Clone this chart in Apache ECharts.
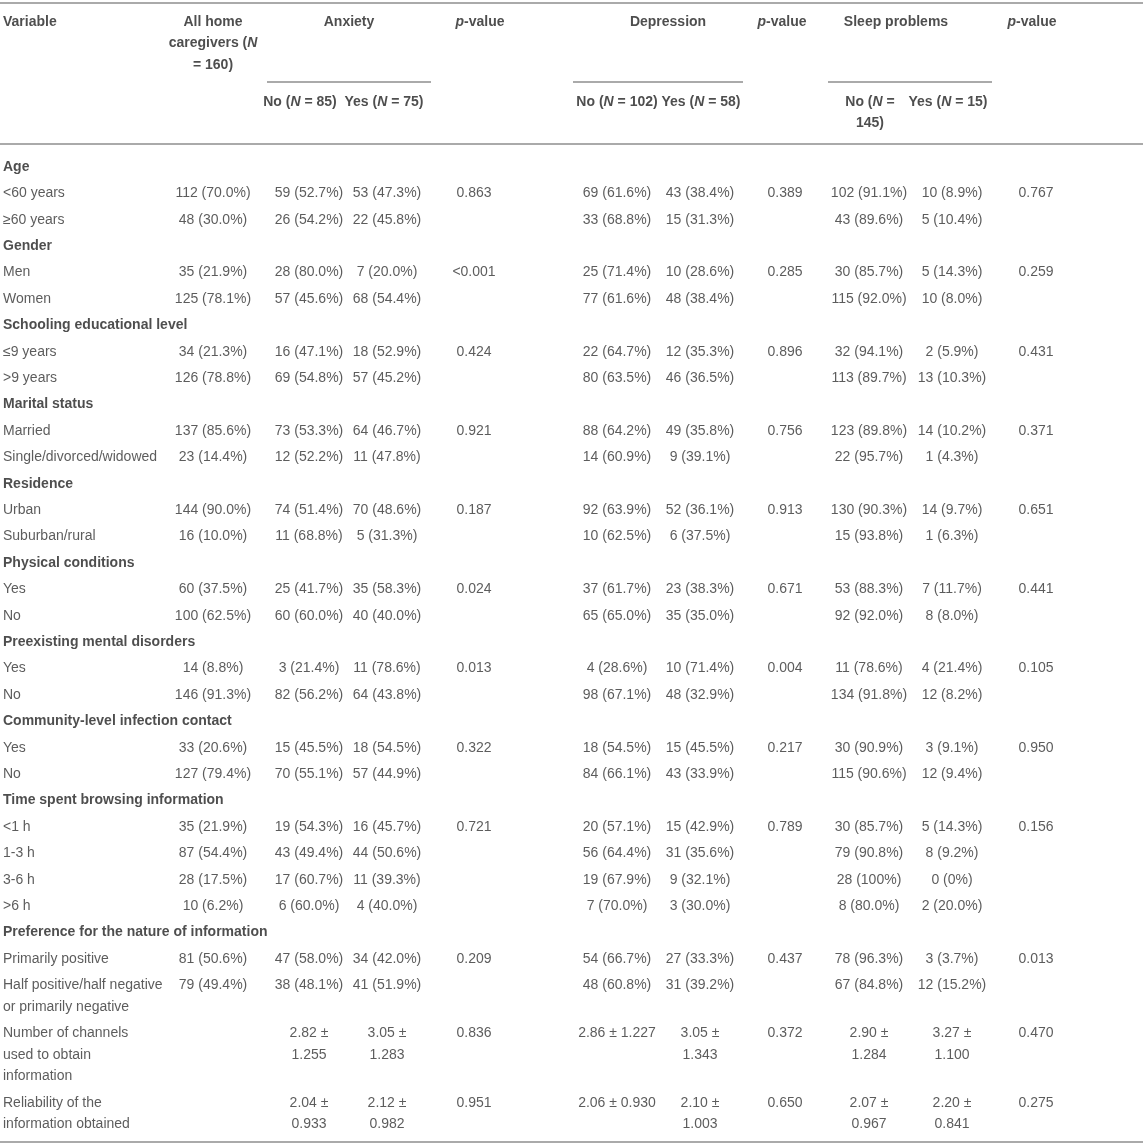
<!DOCTYPE html>
<html>
<head>
<meta charset="utf-8">
<script src="https://cdn.jsdelivr.net/npm/echarts@6/dist/echarts.min.js"></script>
<style>
  html, body { margin: 0; padding: 0; background: #fff; }
  #div_table { width: 1143px; height: 1148px; }
</style>
</head>
<body>
<div id="div_table"></div>
<script>
"use strict";

//
// Table content
//
const variables = [
  "Age", "<60 years", "≥60 years",
  "Gender", "Men", "Women",
  "Schooling educational level", "≤9 years", ">9 years",
  "Marital status", "Married", "Single/divorced/widowed",
  "Residence", "Urban", "Suburban/rural",
  "Physical conditions", "Yes", "No",
  "Preexisting mental disorders", "Yes", "No",
  "Community-level infection contact", "Yes", "No",
  "Time spent browsing information", "<1 h", "1-3 h", "3-6 h", ">6 h",
  "Preference for the nature of information", "Primarily positive", "Half positive/half negative\nor primarily negative",
  "Number of channels\nused to obtain\ninformation",
  "Reliability of the\ninformation obtained",
];
// rows printed in bold (group titles)
const section_rows = [0, 3, 6, 9, 12, 15, 18, 21, 24, 29];

const all_home = ["", "112 (70.0%)", "48 (30.0%)", "", "35 (21.9%)", "125 (78.1%)", "", "34 (21.3%)", "126 (78.8%)", "", "137 (85.6%)", "23 (14.4%)", "", "144 (90.0%)", "16 (10.0%)", "", "60 (37.5%)", "100 (62.5%)", "", "14 (8.8%)", "146 (91.3%)", "", "33 (20.6%)", "127 (79.4%)", "", "35 (21.9%)", "87 (54.4%)", "28 (17.5%)", "10 (6.2%)", "", "81 (50.6%)", "79 (49.4%)", "", ""];

const anx_no = ["", "59 (52.7%)", "26 (54.2%)", "", "28 (80.0%)", "57 (45.6%)", "", "16 (47.1%)", "69 (54.8%)", "", "73 (53.3%)", "12 (52.2%)", "", "74 (51.4%)", "11 (68.8%)", "", "25 (41.7%)", "60 (60.0%)", "", "3 (21.4%)", "82 (56.2%)", "", "15 (45.5%)", "70 (55.1%)", "", "19 (54.3%)", "43 (49.4%)", "17 (60.7%)", "6 (60.0%)", "", "47 (58.0%)", "38 (48.1%)", "2.82 ±\n1.255", "2.04 ±\n0.933"];
const anx_yes = ["", "53 (47.3%)", "22 (45.8%)", "", "7 (20.0%)", "68 (54.4%)", "", "18 (52.9%)", "57 (45.2%)", "", "64 (46.7%)", "11 (47.8%)", "", "70 (48.6%)", "5 (31.3%)", "", "35 (58.3%)", "40 (40.0%)", "", "11 (78.6%)", "64 (43.8%)", "", "18 (54.5%)", "57 (44.9%)", "", "16 (45.7%)", "44 (50.6%)", "11 (39.3%)", "4 (40.0%)", "", "34 (42.0%)", "41 (51.9%)", "3.05 ±\n1.283", "2.12 ±\n0.982"];
const anx_p = ["", "0.863", "", "", "<0.001", "", "", "0.424", "", "", "0.921", "", "", "0.187", "", "", "0.024", "", "", "0.013", "", "", "0.322", "", "", "0.721", "", "", "", "", "0.209", "", "0.836", "0.951"];

const dep_no = ["", "69 (61.6%)", "33 (68.8%)", "", "25 (71.4%)", "77 (61.6%)", "", "22 (64.7%)", "80 (63.5%)", "", "88 (64.2%)", "14 (60.9%)", "", "92 (63.9%)", "10 (62.5%)", "", "37 (61.7%)", "65 (65.0%)", "", "4 (28.6%)", "98 (67.1%)", "", "18 (54.5%)", "84 (66.1%)", "", "20 (57.1%)", "56 (64.4%)", "19 (67.9%)", "7 (70.0%)", "", "54 (66.7%)", "48 (60.8%)", "2.86 ± 1.227", "2.06 ± 0.930"];
const dep_yes = ["", "43 (38.4%)", "15 (31.3%)", "", "10 (28.6%)", "48 (38.4%)", "", "12 (35.3%)", "46 (36.5%)", "", "49 (35.8%)", "9 (39.1%)", "", "52 (36.1%)", "6 (37.5%)", "", "23 (38.3%)", "35 (35.0%)", "", "10 (71.4%)", "48 (32.9%)", "", "15 (45.5%)", "43 (33.9%)", "", "15 (42.9%)", "31 (35.6%)", "9 (32.1%)", "3 (30.0%)", "", "27 (33.3%)", "31 (39.2%)", "3.05 ±\n1.343", "2.10 ±\n1.003"];
const dep_p = ["", "0.389", "", "", "0.285", "", "", "0.896", "", "", "0.756", "", "", "0.913", "", "", "0.671", "", "", "0.004", "", "", "0.217", "", "", "0.789", "", "", "", "", "0.437", "", "0.372", "0.650"];

const sleep_no = ["", "102 (91.1%)", "43 (89.6%)", "", "30 (85.7%)", "115 (92.0%)", "", "32 (94.1%)", "113 (89.7%)", "", "123 (89.8%)", "22 (95.7%)", "", "130 (90.3%)", "15 (93.8%)", "", "53 (88.3%)", "92 (92.0%)", "", "11 (78.6%)", "134 (91.8%)", "", "30 (90.9%)", "115 (90.6%)", "", "30 (85.7%)", "79 (90.8%)", "28 (100%)", "8 (80.0%)", "", "78 (96.3%)", "67 (84.8%)", "2.90 ±\n1.284", "2.07 ±\n0.967"];
const sleep_yes = ["", "10 (8.9%)", "5 (10.4%)", "", "5 (14.3%)", "10 (8.0%)", "", "2 (5.9%)", "13 (10.3%)", "", "14 (10.2%)", "1 (4.3%)", "", "14 (9.7%)", "1 (6.3%)", "", "7 (11.7%)", "8 (8.0%)", "", "4 (21.4%)", "12 (8.2%)", "", "3 (9.1%)", "12 (9.4%)", "", "5 (14.3%)", "8 (9.2%)", "0 (0%)", "2 (20.0%)", "", "3 (3.7%)", "12 (15.2%)", "3.27 ±\n1.100", "2.20 ±\n0.841"];
const sleep_p = ["", "0.767", "", "", "0.259", "", "", "0.431", "", "", "0.371", "", "", "0.651", "", "", "0.441", "", "", "0.105", "", "", "0.950", "", "", "0.156", "", "", "", "", "0.013", "", "0.470", "0.275"];

// header texts ({it|..} = italic)
const head_top = ["Variable", "All home\ncaregivers ({it|N}\n= 160)", "Anxiety", "{it|p}-value", "Depression", "{it|p}-value", "Sleep problems", "{it|p}-value"];
const head_sub = ["No ({it|N} = 85)", "Yes ({it|N} = 75)", "No ({it|N} = 102)", "Yes ({it|N} = 58)", "No ({it|N} =\n145)", "Yes ({it|N} = 15)"];

//
// Layout (pixel units of the hidden axes)
//
const W = 1143, H = 1148;
const FONT = "'Liberation Sans', Arial, Helvetica, sans-serif";
const FONT_SIZE = 14;
const LINE_H = 21.6;
const ROW_PAD = 4.8;
const BODY_TOP = 167;
const HEAD_TOP = 22;
const SUB_TOP = 102;
const COL_X = [3, 213, 309, 387, 474, 617, 700, 785, 869, 952, 1036];
const HEAD_X = [3, 213, 349, 480, 668, 782, 896, 1032];
const SUB_X = [300, 384, 617, 701, 870, 948];
const GROUP_RULE_X = [[267, 431], [573, 743], [828, 992]];
const RULE_Y_TOP = 3, RULE_Y_GROUP = 82, RULE_Y_HEAD = 144;
const RULE_COLOR = "#aaaaaa";

const body_cols = [variables, all_home, anx_no, anx_yes, anx_p, dep_no, dep_yes, dep_p, sleep_no, sleep_yes, sleep_p];

// row positions from the number of text lines in each row
const row_y = [];
let y_cur = BODY_TOP;
for (let i = 0; i < variables.length; i++) {
  row_y.push(y_cur);
  const n_lines = Math.max(...body_cols.map(c => c[i].split("\n").length));
  y_cur += n_lines * LINE_H + ROW_PAD;
}
const last = variables.length - 1;
const rule_y_bottom = row_y[last] + (variables[last].split("\n").length - 1) * LINE_H + 17;

//
// Chart
//
const html_div_table = document.getElementById("div_table");
const chart = echarts.init(html_div_table);

function rich_styles(bold) {
  return {
    it: {
      fontStyle: "italic",
      fontWeight: bold ? "bold" : "normal",
      fontSize: FONT_SIZE,
      fontFamily: FONT,
      color: bold ? "#222" : "#333",
      lineHeight: LINE_H,
    },
  };
}

function text_series(name, items, align, bold) {
  return {
    type: "scatter",
    name: name,
    symbolSize: 0,
    silent: true,
    animation: false,
    data: items.map(d => {
      const item = { value: [d.x, d.y], name: d.text };
      if (d.bold) {
        item.label = { fontWeight: "bold", color: "#222" };
      }
      return item;
    }),
    label: {
      show: true,
      position: "inside",
      align: align,
      verticalAlign: "top",
      formatter: p => p.name,
      fontSize: FONT_SIZE,
      fontFamily: FONT,
      fontWeight: bold ? "bold" : "normal",
      color: bold ? "#222" : "#333",
      lineHeight: LINE_H,
      rich: rich_styles(bold),
    },
  };
}

const series = [];

// header row
series.push(text_series("head_var", [{ x: HEAD_X[0], y: HEAD_TOP - LINE_H / 2, text: head_top[0] }], "left", true));
series.push(text_series("head_top",
  head_top.slice(1).map((t, k) => ({ x: HEAD_X[k + 1], y: HEAD_TOP - LINE_H / 2, text: t })), "center", true));
series.push(text_series("head_sub",
  head_sub.map((t, k) => ({ x: SUB_X[k], y: SUB_TOP - LINE_H / 2, text: t })), "center", true));

// body
series.push(text_series("variable",
  variables.map((t, i) => ({ x: COL_X[0], y: row_y[i] - LINE_H / 2, text: t, bold: section_rows.includes(i) })),
  "left", false));
for (let k = 1; k < body_cols.length; k++) {
  const items = [];
  body_cols[k].forEach((t, i) => {
    if (t !== "") items.push({ x: COL_X[k], y: row_y[i] - LINE_H / 2, text: t });
  });
  series.push(text_series("col_" + k, items, "center", false));
}

// horizontal rules
const rules = [
  [[0, RULE_Y_TOP], [W, RULE_Y_TOP]],
  [[0, RULE_Y_HEAD], [W, RULE_Y_HEAD]],
  [[0, rule_y_bottom], [W, rule_y_bottom]],
];
for (const [x0, x1] of GROUP_RULE_X) {
  rules.push([[x0, RULE_Y_GROUP], [x1, RULE_Y_GROUP]]);
}
series.push({
  type: "scatter",
  name: "rules",
  data: [],
  silent: true,
  animation: false,
  markLine: {
    silent: true,
    animation: false,
    symbol: ["none", "none"],
    label: { show: false },
    lineStyle: { color: RULE_COLOR, width: 2, type: "solid" },
    data: rules.map(r => [{ coord: r[0] }, { coord: r[1] }]),
  },
});

chart.setOption({
  animation: false,
  backgroundColor: "#ffffff",
  grid: { left: 0, right: 0, top: 0, bottom: 0 },
  xAxis: { type: "value", min: 0, max: W, show: false },
  yAxis: { type: "value", min: 0, max: H, inverse: true, show: false },
  series: series,
});
</script>
</body>
</html>
